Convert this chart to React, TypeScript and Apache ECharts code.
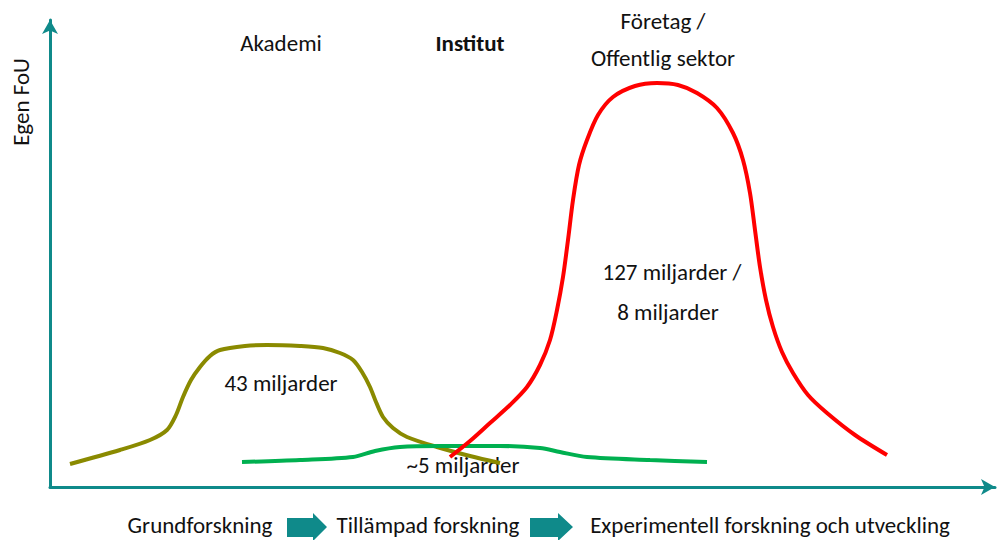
import React, { useEffect, useRef } from "react";
import * as echarts from "echarts";

// Schematic curves (x: position along research axis, y: own R&D level)
const akademiX = [20, 70, 100, 117, 126, 133, 141, 150, 160, 170, 195, 217, 250, 273, 290, 303, 312, 320, 326, 333, 343, 357, 387, 420, 450];
const akademiY = [23, 37, 47, 57, 72, 90, 107, 120, 131, 137, 141, 142, 141, 139, 134, 127, 115, 100, 85, 70, 59, 50, 40, 31, 24];

const institutX = [192, 250, 303, 325, 350, 390, 450, 490, 510, 537, 600, 657];
const institutY = [25, 27, 30, 36, 40, 41, 41, 39, 35, 30, 27, 25];

const foretagX = [400, 420, 440, 460, 477, 490, 500, 507, 513, 518, 523, 529, 537, 548, 563, 585, 607, 628, 647, 667, 683, 693, 700, 705, 710, 716, 723, 732, 743, 758, 777, 805, 837];
const foretagY = [30, 46, 64, 82, 100, 122, 147, 177, 210, 247, 287, 322, 347, 372, 390, 401, 404, 402, 394, 379, 354, 327, 294, 257, 220, 187, 160, 135, 114, 92, 74, 52, 32];

const groupLabels = ["Akademi", "Institut", "Företag /\nOffentlig sektor"];
const amountLabels = ["43 miljarder", "~5 miljarder", "127 miljarder /", "8 miljarder"];
const stageLabels = ["Grundforskning", "Tillämpad forskning", "Experimentell forskning och utveckling"];
const yName = "Egen FoU";

const FONT = "Carlito, Lato, 'Open Sans', sans-serif";
const TEAL = "#0F8A8A";

const zip = (xs: number[], ys: number[]) => xs.map((x, i) => [x, ys[i]]);

const blockArrow = (x0: number, xh: number, x1: number) => ({
  type: "polygon",
  shape: {
    points: [
      [x0, 518],
      [xh, 518],
      [xh, 513],
      [x1, 527],
      [xh, 541],
      [xh, 537],
      [x0, 537],
    ],
  },
  style: { fill: TEAL },
});

const txt = (text: string, x: number, y: number, extra: any = {}) => ({
  type: "text",
  x,
  y,
  style: {
    text,
    fill: "#111",
    font: `${extra.weight || "normal"} 23px ${FONT}`,
    textAlign: "center",
    textVerticalAlign: "middle",
    lineHeight: 37,
  },
  ...(extra.rotation != null ? { rotation: extra.rotation } : {}),
});

export default function App() {
  const ref = useRef<HTMLDivElement>(null);
  useEffect(() => {
    if (!ref.current) return;
    const chart = echarts.init(ref.current, undefined, { renderer: "svg" });
    const lineSeries = (name: string, xs: number[], ys: number[], color: string) => ({
      name,
      type: "line",
      data: zip(xs, ys),
      smooth: 0.3,
      showSymbol: false,
      symbol: "none",
      lineStyle: { color, width: 4 },
    });
    chart.setOption({
      animation: false,
      backgroundColor: "#fff",
      grid: { left: 50, right: 2, top: 20, bottom: 53 },
      xAxis: {
        type: "value",
        min: 0,
        max: 945,
        axisLine: { show: true, symbol: ["none", "arrow"], symbolSize: [12, 14], lineStyle: { color: TEAL, width: 3 } },
        axisTick: { show: false },
        axisLabel: { show: false },
        splitLine: { show: false },
      },
      yAxis: {
        type: "value",
        min: 0,
        max: 467,
        axisLine: { show: true, symbol: ["none", "arrow"], symbolSize: [12, 14], lineStyle: { color: TEAL, width: 3 } },
        axisTick: { show: false },
        axisLabel: { show: false },
        splitLine: { show: false },
      },
      series: [
        lineSeries("Akademi", akademiX, akademiY, "#8A8A00"),
        lineSeries("Institut", institutX, institutY, "#00B050"),
        lineSeries("Företag", foretagX, foretagY, "#FF0000"),
      ],
      graphic: [
        txt(yName, 21, 102, { rotation: Math.PI / 2 }),
        txt(groupLabels[0], 281, 43),
        txt(groupLabels[1], 470, 43, { weight: "bold" }),
        txt(groupLabels[2], 663, 39),
        txt(amountLabels[0], 281, 383),
        txt(amountLabels[1], 463, 465),
        txt(amountLabels[2], 672, 272),
        txt(amountLabels[3], 668, 312),
        txt(stageLabels[0], 200, 525),
        txt(stageLabels[1], 428, 525),
        txt(stageLabels[2], 770, 525),
        blockArrow(287, 313, 327),
        blockArrow(530, 558, 573),
      ],
    });
    return () => chart.dispose();
  }, []);
  return <div ref={ref} style={{ position: "absolute", left: 0, top: 0, width: 997, height: 540 }} />;
}
